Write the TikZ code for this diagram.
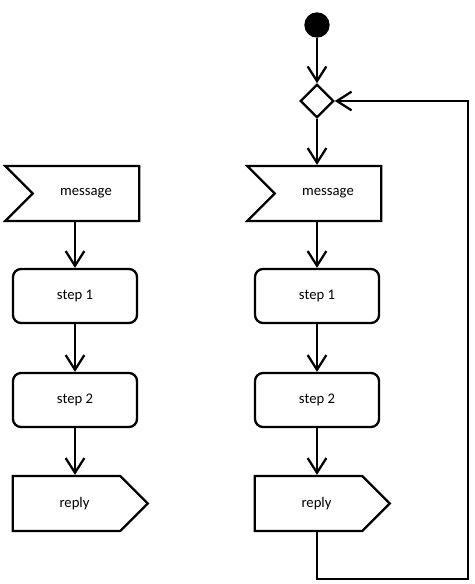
\documentclass[tikz,border=0pt]{standalone}
\usepackage{fontspec}
\setmainfont{Carlito}
\usepackage{tikz}
\usetikzlibrary{arrows.meta,positioning,shapes.geometric,shapes.symbols}
\tikzset{
  flow/.style={draw,line width=1.7pt,font=\fontsize{11}{13}\selectfont},
  stepbox/.style={flow,rounded corners=6pt,minimum width=93pt,minimum height=40.5pt},
  msgbox/.style={flow,shape=signal,signal from=west,signal to=nowhere,
    minimum width=100.5pt,minimum height=41.25pt},
  replybox/.style={flow,shape=signal,signal to=east,signal from=nowhere,
    minimum width=101.25pt,minimum height=41.25pt},
  startdot/.style={circle,fill,inner sep=0pt,minimum size=19pt},
  choice/.style={flow,diamond,inner sep=0pt,minimum size=25pt},
  link/.style={line width=1.7pt,-{Straight Barb[length=11pt,width=14pt]}}
}

\begin{document}
\begin{tikzpicture}[x=0.75pt,y=-0.75pt]
  \useasboundingbox (0,0) rectangle (474,584);

  % left: one message
  \node[msgbox]   (msgL)   at (86,193.5)  {message};
  \node[stepbox]  (stepL1) at (75,296)    {step 1};
  \node[stepbox]  (stepL2) at (75,400)    {step 2};
  \node[replybox] (replyL) at (66.5,503.5) {\hspace*{12pt}reply};

  \draw[link] (msgL.south -| stepL1.north) -- (stepL1.north);
  \draw[link] (stepL1) -- (stepL2);
  \draw[link] (stepL2.south) -- (replyL.north -| stepL2.south);

  % right: looping over messages
  \node[startdot] (start)  at (317,25)    {};
  \node[choice]   (merge)  at (317,101)   {};
  \node[msgbox]   (msgR)   at (328,193.5) {message};
  \node[stepbox]  (stepR1) at (317,296)   {step 1};
  \node[stepbox]  (stepR2) at (317,400)   {step 2};
  \node[replybox] (replyR) at (308.5,503.5) {\hspace*{12pt}reply};
  \coordinate (loopB) at (468,579);

  \draw[link] (start) -- (merge);
  \draw[link] (merge) -- (msgR.north -| merge.south);
  \draw[link] (msgR.south -| stepR1.north) -- (stepR1.north);
  \draw[link] (stepR1) -- (stepR2);
  \draw[link] (stepR2.south) -- (replyR.north -| stepR2.south);
  \draw[link] (replyR.south -| stepR2.south) |- (loopB) |- (merge.east);
\end{tikzpicture}
\end{document}
